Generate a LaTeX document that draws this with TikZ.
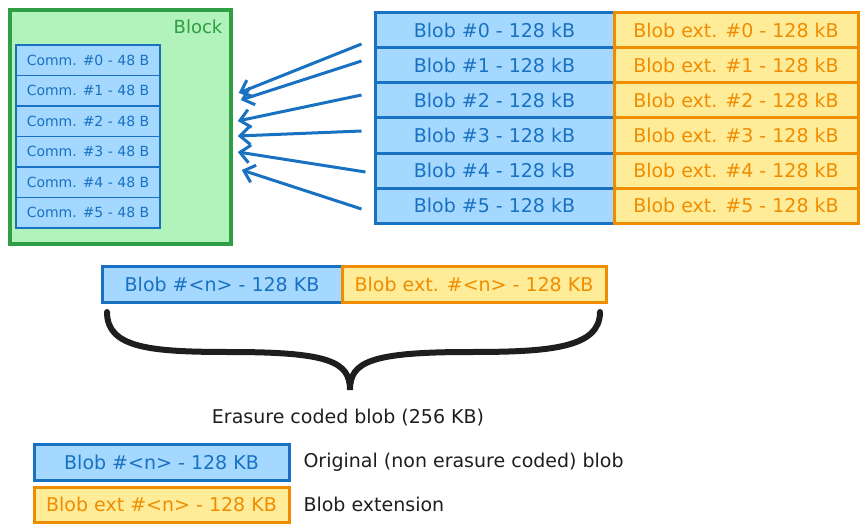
\documentclass[tikz,border=0pt]{standalone}
\usepackage{fontspec}
\setmainfont{DejaVu Sans}
\usetikzlibrary{arrows.meta,calc}
\definecolor{myblue}{HTML}{A5D8FF}
\definecolor{blueline}{HTML}{1971C2}
\definecolor{myorange}{HTML}{FFEC99}
\definecolor{orangeline}{HTML}{F08C00}
\definecolor{mygreen}{HTML}{B2F2BB}
\definecolor{greenline}{HTML}{2F9E44}
\definecolor{ink}{HTML}{1E1E1E}

\begin{document}
\begin{tikzpicture}[x=1pt,y=-1pt]

\tikzstyle{blockbox} = [draw=greenline, fill=mygreen, line width=3.5,
    minimum width=221, minimum height=234, inner sep=0]
\tikzstyle{comm} = [draw=blueline, fill=myblue, line width=1.5,
    minimum width=144, minimum height=30.5, inner sep=0, text=blueline,
    font=\fontsize{14}{16}\selectfont]
\tikzstyle{blob} = [draw=blueline, fill=myblue, line width=3,
    minimum height=35, inner sep=0, text=blueline,
    font=\fontsize{19}{22}\selectfont]
\tikzstyle{blobext} = [draw=orangeline, fill=myorange, line width=3,
    minimum height=35, inner sep=0, text=orangeline,
    font=\fontsize{19}{22}\selectfont]
\tikzstyle{link} = [draw=blueline, line width=3, -{Straight Barb[length=10,width=18]}]
\tikzstyle{plain} = [text=ink, font=\fontsize{19}{22}\selectfont]

\useasboundingbox (0,0) rectangle (867,532);

% =========================
% block with commitments
% =========================
\node[blockbox] (block) at (120.5,127) {};
\node[text=greenline, font=\fontsize{18}{21}\selectfont] (blocklabel) at (198,27) {Block};

\node[comm] (c0) at (88,60.25) {Comm. \#0 - 48 B};
\node[comm] (c1) at (88,90.75) {Comm. \#1 - 48 B};
\node[comm] (c2) at (88,121.25) {Comm. \#2 - 48 B};
\node[comm] (c3) at (88,151.75) {Comm. \#3 - 48 B};
\node[comm] (c4) at (88,182.25) {Comm. \#4 - 48 B};
\node[comm] (c5) at (88,212.75) {Comm. \#5 - 48 B};

% =========================
% blobs and extensions
% =========================
\node[blob, minimum width=239] (b0) at (494.5,30.5) {Blob \#0 - 128 kB};
\node[blob, minimum width=239] (b1) at (494.5,65.5) {Blob \#1 - 128 kB};
\node[blob, minimum width=239] (b2) at (494.5,100.5) {Blob \#2 - 128 kB};
\node[blob, minimum width=239] (b3) at (494.5,135.5) {Blob \#3 - 128 kB};
\node[blob, minimum width=239] (b4) at (494.5,170.5) {Blob \#4 - 128 kB};
\node[blob, minimum width=239] (b5) at (494.5,205.5) {Blob \#5 - 128 kB};

\node[blobext, minimum width=244] (e0) at (736,30.5) {Blob ext. \#0 - 128 kB};
\node[blobext, minimum width=244] (e1) at (736,65.5) {Blob ext. \#1 - 128 kB};
\node[blobext, minimum width=244] (e2) at (736,100.5) {Blob ext. \#2 - 128 kB};
\node[blobext, minimum width=244] (e3) at (736,135.5) {Blob ext. \#3 - 128 kB};
\node[blobext, minimum width=244] (e4) at (736,170.5) {Blob ext. \#4 - 128 kB};
\node[blobext, minimum width=244] (e5) at (736,205.5) {Blob ext. \#5 - 128 kB};

% arrows from blobs to the block
\draw[link] ($(b0.west)+(-12,13.5)$) -- ($(block.east)+(6,-34)$);
\draw[link] ($(b1.west)+(-12,-4.5)$) -- ($(block.east)+(8,-27)$);
\draw[link] ($(b2.west)+(-12,-5.5)$) -- ($(block.east)+(5,-6)$);
\draw[link] ($(b3.west)+(-12,-4.5)$) -- ($(block.east)+(5,9)$);
\draw[link] ($(b4.west)+(-8,1.5)$) -- ($(block.east)+(5,25)$);
\draw[link] ($(b5.west)+(-12,3.5)$) -- ($(block.east)+(9,43)$);

% =========================
% erasure coded blob
% =========================
\node[blob, minimum width=240, minimum height=36] (mblob) at (222,284) {Blob \#<n> - 128 KB};
\node[blobext, minimum width=264, minimum height=36] (mext) at (474,284) {Blob ext. \#<n> - 128 KB};

\draw[ink, line width=6, line cap=round]
    (107,312) .. controls (107,348) and (150,352) .. (230,352)
    .. controls (330,352) and (350,362) .. (350,390)
    .. controls (350,362) and (370,352) .. (470,352)
    .. controls (550,352) and (600,348) .. (600,312);
\node[plain] (erasure) at (348,418) {Erasure coded blob (256 KB)};

% =========================
% legend
% =========================
\node[blob, minimum width=255, minimum height=36] (lblob) at (161.5,462) {Blob \#<n> - 128 KB};
\node[blobext, minimum width=255] (lext) at (161.5,504.5) {Blob ext \#<n> - 128 KB};
\node[plain, anchor=west] (lblobtxt) at (300,462) {Original (non erasure coded) blob};
\node[plain, anchor=west] (lexttxt) at (300,504.5) {Blob extension};

\end{tikzpicture}
\end{document}
